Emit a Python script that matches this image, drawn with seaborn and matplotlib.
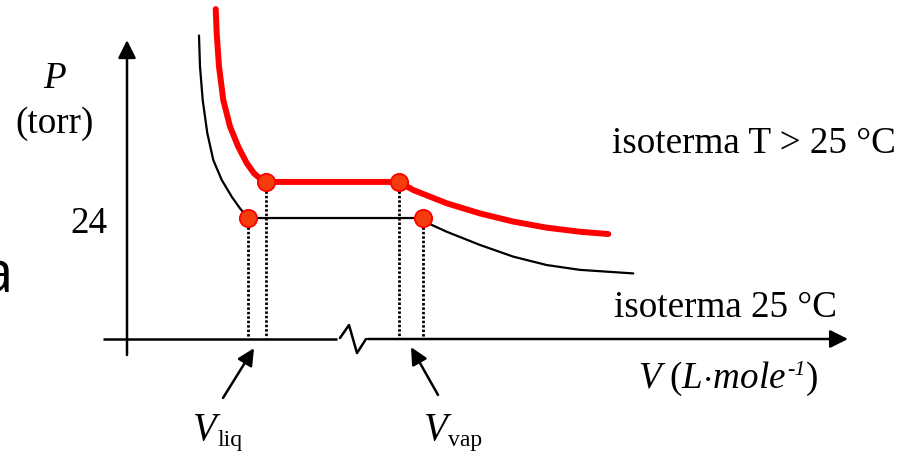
import matplotlib
matplotlib.use("Agg")
import matplotlib.pyplot as plt
import numpy as np
import pandas as pd
import seaborn as sns

# Isotherms of a pure substance: P (torr) against molar volume V (arbitrary units)
P_SAT_25 = 24.0      # vapour pressure at 25 °C
P_SAT_HOT = 31.1     # vapour pressure at T > 25 °C

# 25 °C isotherm, liquid branch (top -> saturation)
v_liq_25 = [7.2, 7.3, 7.57, 8.03, 8.63, 9.47, 10.47, 11.3, 12.1]
p_liq_25 = [59.9, 53.8, 47.2, 40.7, 35.4, 31.5, 28.2, 25.9, 24.0]
# 25 °C isotherm, vapour branch (saturation -> right)
v_vap_25 = [29.6, 30.3, 31.97, 35.3, 38.63, 41.97, 45.3, 50.63]
p_vap_25 = [24.0, 22.8, 21.3, 18.7, 16.4, 14.75, 13.8, 13.1]

# T > 25 °C isotherm
v_liq_hot = [8.87, 8.97, 9.2, 9.63, 10.3, 11.13, 11.97, 12.7, 13.47, 13.9]
p_liq_hot = [65.1, 60.3, 53.8, 47.2, 42.0, 38.0, 34.8, 32.8, 31.5, 31.1]
v_vap_hot = [27.2, 28.63, 31.97, 35.3, 38.63, 41.97, 45.3, 48.13]
p_vap_hot = [31.1, 29.5, 26.9, 24.9, 23.3, 22.1, 21.3, 20.85]

# saturation points (liquid / vapour molar volumes)
v_sat_25 = [12.1, 29.6]
v_sat_hot = [13.9, 27.2]

RED = "#FF0000"
DOT = "#F53C0C"
DPI = 100

sns.set_theme(style="white")
plt.rcParams["font.family"] = ["Liberation Serif", "DejaVu Serif"]
plt.rcParams["text.color"] = "black"
plt.rcParams["mathtext.fontset"] = "custom"
plt.rcParams["mathtext.rm"] = "Liberation Serif"
plt.rcParams["mathtext.it"] = "Liberation Serif:italic"

fig = plt.figure(figsize=(9.10, 4.55), dpi=DPI)
ax = fig.add_axes([0, 0, 1, 1])
ax.set_xlim(-12.7, 78.3)
ax.set_ylim(-22.62, 66.89)
ax.axis("off")

def isotherm(v_l, p_l, v_v, p_v):
    v = list(v_l) + list(v_v)
    p = list(p_l) + list(p_v)
    return pd.DataFrame({"V": v, "P": p})

iso25 = isotherm(v_liq_25, p_liq_25, v_vap_25, p_vap_25)
isohot = isotherm(v_liq_hot, p_liq_hot, v_vap_hot, p_vap_hot)

# dotted drop lines from the saturation points to the V axis
for v, p in [(v_sat_25[0], P_SAT_25), (v_sat_25[1], P_SAT_25),
             (v_sat_hot[0], P_SAT_HOT), (v_sat_hot[1], P_SAT_HOT)]:
    ax.plot([v, v], [p, 0.3], color="black", lw=2.0,
            linestyle=(0, (0.9, 0.7)), solid_capstyle="butt", zorder=2)

sns.lineplot(data=iso25, x="V", y="P", sort=False, estimator=None,
             color="black", lw=1.6, ax=ax, zorder=3)
sns.lineplot(data=isohot, x="V", y="P", sort=False, estimator=None,
             color=RED, lw=4.3, ax=ax, zorder=3,
             solid_capstyle="round", solid_joinstyle="round")

dots = pd.DataFrame({"V": v_sat_25 + v_sat_hot,
                     "P": [P_SAT_25] * 2 + [P_SAT_HOT] * 2})
sns.scatterplot(data=dots, x="V", y="P", s=155, color=DOT,
                edgecolor=RED, linewidth=1.3, ax=ax, zorder=5)

# axes drawn as arrows, with a break on the V axis
arrow_kw = dict(arrowstyle="-|>,head_length=0.9,head_width=0.45",
                color="black", lw=1.8, shrinkA=0, shrinkB=0)
ax.annotate("", xy=(0, 59.0), xytext=(0, -2.95), arrowprops=arrow_kw)
ax.plot([-2.4, 21.0], [0.2, 0.2], color="black", lw=1.8, solid_capstyle="butt")
ax.plot([21.3, 22.2, 23.0, 23.9], [0.4, 2.95, -2.56, 0.2], color="black", lw=1.8)
ax.annotate("", xy=(72.1, 0.2), xytext=(24.1, 0.2), arrowprops=arrow_kw)

# pointers to V_liq and V_vap
ptr_kw = dict(arrowstyle="-|>,head_length=0.85,head_width=0.42",
              color="black", lw=1.8, shrinkA=0, shrinkB=0)
ax.annotate("", xy=(12.7, -1.6), xytext=(9.6, -11.4), arrowprops=ptr_kw)
ax.annotate("", xy=(28.4, -1.4), xytext=(31.1, -10.8), arrowprops=ptr_kw)

FS = 26.7
ax.text(-7.2, 49.6, "P", fontsize=FS, style="italic", ha="center", va="baseline")
ax.text(-7.25, 40.7, "(torr)", fontsize=FS, ha="center", va="baseline")
ax.text(-2.0, 21.05, "24", fontsize=FS, ha="right", va="baseline")
ax.text(48.5, 36.8, "isoterma T > 25 °C", fontsize=FS, ha="left", va="baseline")
ax.text(48.7, 4.5, "isoterma 25 °C", fontsize=FS, ha="left", va="baseline")

# V axis title: "V (L·mole" + italic superscript "-1" + ")"
lab_xy = (51.1, -9.5)
t_main = ax.text(*lab_xy, r"$V\ (L{\cdot}mole$", fontsize=FS, ha="left", va="baseline")
fig.canvas.draw()
renderer = fig.canvas.get_renderer()
x0_px = ax.transData.transform(lab_xy)[0]
right_px = t_main.get_window_extent(renderer).x1
dx_pt = (right_px - x0_px + 1.0) * 72 / DPI
t_sup = ax.annotate("-1", xy=lab_xy, xycoords="data", xytext=(dx_pt, 9.5),
                    textcoords="offset points", fontsize=16, style="italic",
                    ha="left", va="baseline")
fig.canvas.draw()
sup_right_px = t_sup.get_window_extent(renderer).x1
dx2_pt = (sup_right_px - x0_px + 0.5) * 72 / DPI
ax.annotate(")", xy=lab_xy, xycoords="data", xytext=(dx2_pt, 0),
            textcoords="offset points", fontsize=FS, ha="left", va="baseline")

ax.text(9.0, -19.7, "V", fontsize=28, style="italic", ha="right", va="baseline")
ax.text(9.0, -20.85, "liq", fontsize=17, ha="left", va="baseline")
ax.text(32.1, -19.7, "V", fontsize=28, style="italic", ha="right", va="baseline")
ax.text(32.1, -20.85, "vap", fontsize=17, ha="left", va="baseline")

ax.text(-11.4, 9.25, "a", fontsize=42, family=["Open Sans"], ha="right", va="baseline")

fig.savefig("out.png", dpi=DPI)
